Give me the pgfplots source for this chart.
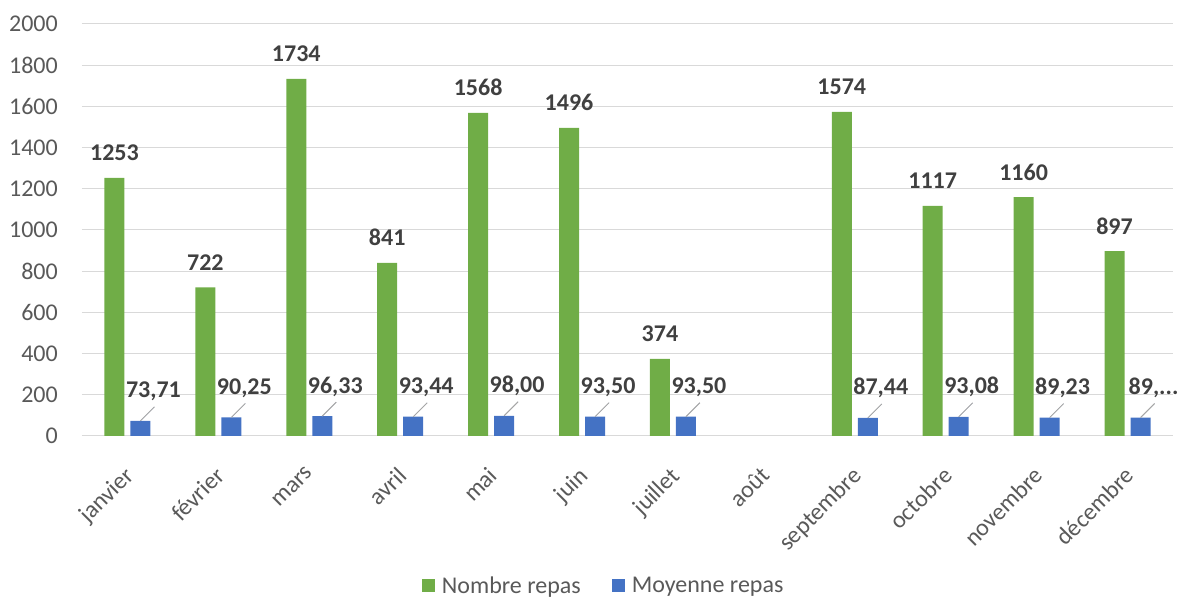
\documentclass[border=0pt]{standalone}
\usepackage{pgfplots}
\pgfplotsset{compat=1.18}
\usepackage{fontspec}
\setmainfont{Carlito}
\definecolor{cgreen}{HTML}{70AD47}
\definecolor{cblue}{HTML}{4472C4}
\definecolor{cgrid}{HTML}{D9D9D9}
\definecolor{ctick}{HTML}{595959}
\definecolor{clab}{HTML}{404040}
\definecolor{cline}{HTML}{A6A6A6}

\pgfplotstableread{
x y
0 1253
1 722
2 1734
3 841
4 1568
5 1496
6 374
8 1574
9 1117
10 1160
11 897
}\nombre

\pgfplotstableread{
x y label
0 73.71 73,71
1 90.25 90,25
2 96.33 96,33
3 93.44 93,44
4 98.00 98,00
5 93.50 93,50
6 93.50 93,50
8 87.44 87,44
9 93.08 93,08
10 89.23 89,23
11 89.69 89,...
}\moyenne

\begin{document}
\begin{tikzpicture}[x=1pt,y=1pt]
\useasboundingbox (-82,-163) rectangle (1113,436);
\begin{axis}[
  at={(0,0)}, anchor=south west,
  width=1091pt, height=412pt, scale only axis,
  xmin=-0.5, xmax=11.5, ymin=0, ymax=2000,
  ytick={0,200,...,2000},
  xtick={0,...,11},
  xticklabels={janvier,février,mars,avril,mai,juin,juillet,août,septembre,octobre,novembre,décembre},
  ymajorgrids, grid style={cgrid, line width=1pt},
  axis line style={draw=none},
  major tick style={draw=none},
  ybar=6pt, bar width=20pt,
  /pgf/number format/assume math mode=true,
  /pgf/number format/1000 sep={},
  ticklabel style={font=\fontsize{24}{28}\selectfont, text=ctick},
  yticklabel style={inner sep=0pt, xshift=-24pt},
  xticklabel style={yshift=-25pt, xshift=-4pt, rotate=45, anchor=north east, inner sep=0pt},
  legend columns=2,
  legend style={at={(0.3116,-0.364)}, anchor=west, draw=none, fill=none,
    inner sep=0pt, outer sep=0pt, column sep=7pt,
    font=\fontsize{24}{28}\selectfont, text=ctick,
    nodes={inner sep=0pt}},
  myleg/.style={legend image code/.code={\fill[##1,draw=none] (0pt,-6.5pt) rectangle (13pt,6.5pt);}},
]
\addplot[fill=cgreen, draw=none, myleg,
  nodes near coords,
  nodes near coords style={font=\bfseries\fontsize{24}{28}\selectfont, text=clab,
    anchor=base, yshift=17pt, inner sep=0pt}]
  table[x=x,y=y] {\nombre};
\addlegendentry{Nombre repas\hspace*{24pt}}
\addplot[fill=cblue, draw=none, myleg,
  point meta=explicit symbolic,
  nodes near coords,
  nodes near coords style={font=\bfseries\fontsize{24}{28}\selectfont, text=clab,
    anchor=base, xshift=13pt, yshift=23pt, inner sep=0pt,
    append after command={([shift={(-13pt,-23pt)}]\tikzlastnode.base) edge[draw=cline, line width=1pt] ([shift={(1pt,-9pt)}]\tikzlastnode.base)}}]
  table[x=x,y=y,meta=label] {\moyenne};
\addlegendentry{Moyenne repas}
\end{axis}
\end{tikzpicture}
\end{document}
